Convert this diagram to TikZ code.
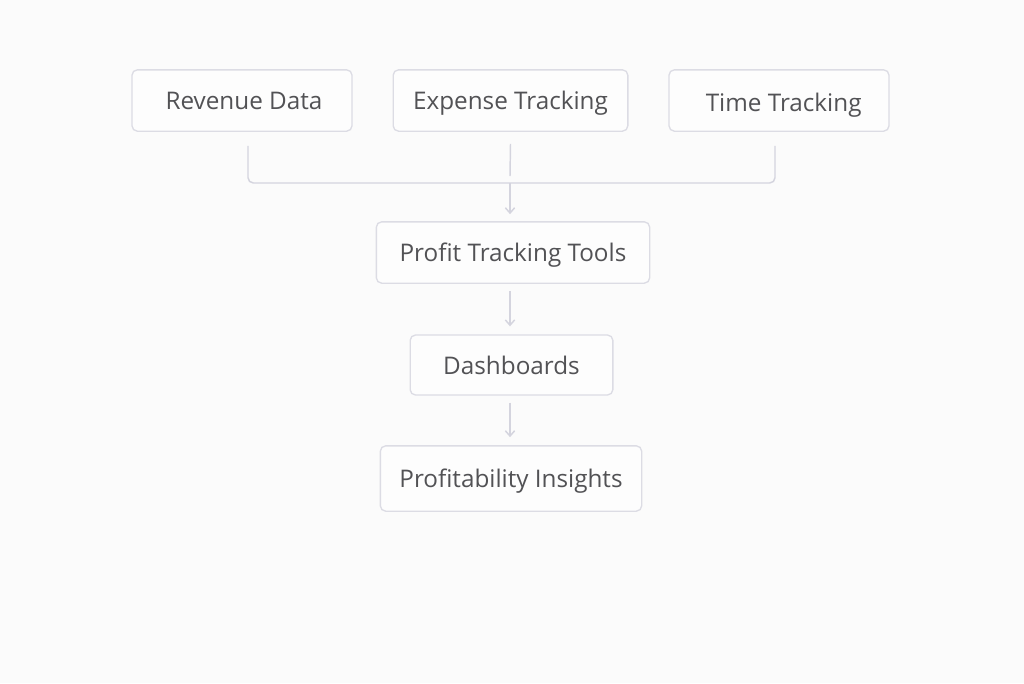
\documentclass[tikz,border=0pt]{standalone}
\usepackage{fontspec}
\setmainfont{Open Sans}[Ligatures={NoCommon}]
\usetikzlibrary{arrows.meta,calc}
\definecolor{bg}{HTML}{FBFBFB}
\definecolor{boxline}{HTML}{DCDCE4}
\definecolor{txt}{HTML}{525255}
\definecolor{conncol}{HTML}{D4D4DE}
\tikzset{
  box/.style={draw=boxline, line width=1pt, rounded corners=4pt, fill=white!60!bg, text=txt,
    font=\fontsize{18.2pt}{20pt}\selectfont, inner sep=0pt, anchor=center,
    text height=17.5pt, text depth=3.8pt},
  conn/.style={draw=conncol, line width=1.1pt},
  arr/.style={conn, -{Straight Barb[length=4pt,width=7pt]}},
}
\begin{document}
\begin{tikzpicture}[x=0.75pt,y=-0.75pt]
\fill[bg] (0,0) rectangle (1024,683);
\useasboundingbox (0,0) rectangle (1024,683);
\node[box, minimum width=165pt, minimum height=46pt] (rev) at (242,100.5) {\hspace*{3pt}Revenue Data};
\node[box, minimum width=176pt, minimum height=46pt] (exp) at (510.5,100.5) {Expense Tracking};
\node[box, minimum width=165pt, minimum height=46pt] (tim) at (779,100.5) {\hspace*{7pt}\raisebox{-1.5pt}{Time Tracking}};
\node[box, minimum width=205pt, minimum height=46pt] (pro) at (513,252.5) {Profit Tracking Tools};
\node[box, minimum width=152pt, minimum height=45pt] (das) at (511.5,365) {Dashboards};
\node[box, minimum width=196pt, minimum height=49pt] (ins) at (511,478.5) {Profitability Insights};
\coordinate (j) at (510,183);
\draw[conn, rounded corners=4pt] ($(rev.south)+(6,14)$) |- (j) -| ($(tim.south)+(-4,14)$);
\draw[conn] ($(exp.south)+(0,12)$) -- ($(j)+(0,-7)$);
\draw[arr] (j) -- ($(pro.north)+(-3,-7)$);
\draw[arr] ($(pro.south)+(-3,7)$) -- ($(das.north)+(-1.5,-8)$);
\draw[arr] ($(das.south)+(-1.5,7)$) -- ($(ins.north)+(-1,-8)$);
\end{tikzpicture}
\end{document}
